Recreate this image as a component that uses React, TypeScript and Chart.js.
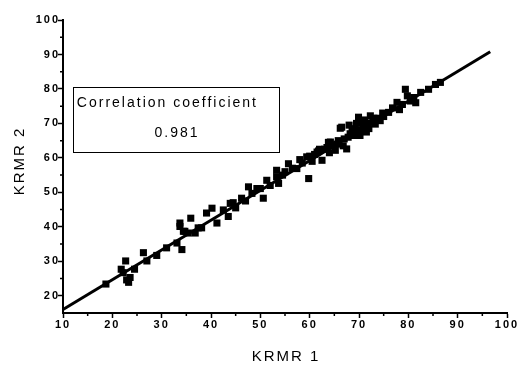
import React, { useEffect, useRef } from "react";
import { Chart, registerables } from "chart.js";

Chart.register(...registerables);

const xValues = [
  18.7, 21.8, 22.2, 22.7, 23.3, 23.6, 22.9, 24.5, 26.3, 27.0, 29.0, 31.0, 33.1, 34.1, 33.7, 34.7,
  33.7, 35.9, 34.4, 35.4, 36.8, 37.4, 38.1, 39.1, 40.2, 41.2, 42.5, 43.9, 43.5, 45.0, 46.2, 47.6,
  48.3, 49.3, 50.0, 50.6, 51.3, 52.0, 53.3, 53.7, 53.3, 54.5, 55.7, 56.5, 57.4, 58.5, 59.4, 59.8,
  60.5, 61.0, 61.5, 62.5, 63.0, 63.5, 64.2, 64.8, 65.2, 65.8, 66.2, 66.5, 66.8, 67.5, 67.8, 68.2,
  68.6, 69.2, 69.5, 69.9, 70.2, 70.5, 70.9, 71.2, 71.5, 71.8, 72.3, 72.8, 73.3, 73.8, 74.3, 75.0,
  76.0, 76.8, 77.7, 78.2, 78.8, 79.4, 79.8, 80.4, 81.1, 81.5, 82.5, 84.1, 85.5, 86.5, 44.5, 47.0,
  55.0, 58.0, 62.0, 64.0, 67.0, 70.0, 72.0, 74.8, 63.8, 65.5, 68.0, 69.0, 71.0, 73.0, 60.0, 61.8,
];
const yValues = [
  23.4, 27.7, 26.7, 30.1, 23.9, 25.3, 24.6, 27.7, 32.5, 30.1, 31.7, 33.9, 35.3, 33.4, 40.1, 38.7,
  41.1, 42.5, 38.7, 38.2, 38.2, 39.7, 39.7, 44.0, 45.4, 41.1, 44.9, 46.8, 43.0, 45.5, 48.3, 51.6,
  49.7, 51.1, 51.1, 48.3, 53.5, 52.0, 54.5, 52.6, 56.4, 55.0, 58.3, 57.0, 56.9, 58.5, 60.3, 54.0,
  59.0, 61.0, 61.7, 59.3, 62.5, 63.0, 64.6, 63.5, 62.2, 65.0, 68.6, 68.9, 63.5, 62.6, 66.0, 67.0,
  68.4, 68.4, 70.0, 71.8, 66.5, 68.0, 69.3, 71.0, 67.5, 70.0, 72.2, 70.5, 69.8, 71.5, 70.8, 72.0,
  73.2, 74.5, 76.1, 74.0, 75.5, 79.9, 78.0, 76.5, 77.5, 76.0, 79.0, 79.9, 81.3, 81.9, 47.0, 47.5,
  56.0, 59.5, 62.5, 61.5, 65.5, 70.5, 68.5, 73.0, 64.5, 64.0, 69.5, 66.5, 69.0, 71.5, 60.5, 62.0,
];
const fitX = [10, 96.6];
const fitY = [16, 90.8];
const xTickValues = [10, 20, 30, 40, 50, 60, 70, 80, 90, 100];
const yTickValues = [20, 30, 40, 50, 60, 70, 80, 90, 100];
const xMinorTicks = [15, 25, 35, 45, 55, 65, 75, 85, 95];
const yMinorTicks = [25, 35, 45, 55, 65, 75, 85, 95];
const xTitle = "KRMR 1";
const yTitle = "KRMR 2";
const boxLine1 = "Correlation coefficient";
const boxLine2 = "0.981";
const boxXRange = [12, 53.8];
const boxYRange = [61.8, 80.7];

const FONT = '"Liberation Sans", Arial, sans-serif';

const extrasPlugin = {
  id: "extras",
  beforeDraw(chart: any) {
    chart.ctx.letterSpacing = "2px";
  },
  afterDraw(chart: any) {
    const ctx = chart.ctx;
    const xs = chart.scales.x;
    const ys = chart.scales.y;
    const ca = chart.chartArea;
    ctx.save();
    ctx.letterSpacing = "0px";
    ctx.strokeStyle = "#000";
    ctx.lineWidth = 1.5;
    ctx.beginPath();
    xMinorTicks.forEach((v) => {
      const p = xs.getPixelForValue(v);
      ctx.moveTo(p, ca.bottom);
      ctx.lineTo(p, ca.bottom + 3);
    });
    yMinorTicks.forEach((v) => {
      const p = ys.getPixelForValue(v);
      ctx.moveTo(ca.left - 3, p);
      ctx.lineTo(ca.left, p);
    });
    ctx.stroke();

    // correlation box
    const bl = xs.getPixelForValue(boxXRange[0]);
    const br = xs.getPixelForValue(boxXRange[1]);
    const bt = ys.getPixelForValue(boxYRange[1]);
    const bb = ys.getPixelForValue(boxYRange[0]);
    ctx.lineWidth = 1;
    ctx.strokeRect(Math.round(bl) + 0.5, Math.round(bt) + 0.5, Math.round(br - bl), Math.round(bb - bt));
    ctx.fillStyle = "#000";
    ctx.font = `14px ${FONT}`;
    ctx.letterSpacing = "2px";
    ctx.textBaseline = "middle";
    ctx.textAlign = "left";
    ctx.fillText(boxLine1, bl + 4, bt + 17);
    ctx.textAlign = "center";
    ctx.fillText(boxLine2, (bl + br) / 2 + 1, bt + 47);

    // axis titles
    ctx.font = `15px ${FONT}`;
    ctx.letterSpacing = "2px";
    ctx.textAlign = "center";
    ctx.fillText(xTitle, (ca.left + ca.right) / 2 + 1, ca.bottom + 44);
    ctx.save();
    ctx.translate(ca.left - 43, ca.top + 141);
    ctx.rotate(-Math.PI / 2);
    ctx.fillText(yTitle, 0, 0);
    ctx.restore();
    ctx.restore();
  },
};

export default function App() {
  const ref = useRef<HTMLCanvasElement>(null);
  useEffect(() => {
    if (!ref.current) return;
    const points = xValues.map((x, i) => ({ x, y: yValues[i] }));
    const fit = fitX.map((x, i) => ({ x, y: fitY[i] }));
    const chart = new Chart(ref.current, {
      type: "scatter",
      data: {
        datasets: [
          {
            data: fit,
            showLine: true,
            borderColor: "#000",
            borderWidth: 3,
            pointRadius: 0,
            clip: false,
          } as any,
          {
            data: points,
            pointStyle: "rect",
            pointRadius: 5,
            backgroundColor: "#000",
            borderWidth: 0,
          },
        ],
      },
      options: {
        responsive: false,
        animation: false,
        layout: { padding: { top: 20, right: 10, left: 0, bottom: 0 } },
        plugins: { legend: { display: false }, tooltip: { enabled: false } },
        scales: {
          x: {
            type: "linear",
            min: 10,
            max: 100,
            afterFit: (s: any) => {
              s.height = 52;
            },
            afterBuildTicks: (s: any) => {
              s.ticks = xTickValues.map((v) => ({ value: v }));
            },
            grid: { display: true, drawOnChartArea: false, tickLength: 5, tickWidth: 1.5, tickColor: "#000" },
            border: { display: true, color: "#000", width: 2 },
            ticks: { color: "#000", padding: 0, font: { family: FONT, size: 11, weight: "bold" } },
          },
          y: {
            type: "linear",
            min: 15,
            max: 100,
            afterFit: (s: any) => {
              s.width = 63;
            },
            afterBuildTicks: (s: any) => {
              s.ticks = yTickValues.map((v) => ({ value: v }));
            },
            grid: { display: true, drawOnChartArea: false, tickLength: 5, tickWidth: 1.5, tickColor: "#000" },
            border: { display: true, color: "#000", width: 2 },
            ticks: { color: "#000", padding: -2, font: { family: FONT, size: 11, weight: "bold" } },
          },
        },
      },
      plugins: [extrasPlugin],
    });
    return () => chart.destroy();
  }, []);
  return (
    <div style={{ position: "fixed", left: 0, top: 0, width: 517, height: 365, background: "#fff" }}>
      <canvas ref={ref} width={517} height={365} />
    </div>
  );
}
